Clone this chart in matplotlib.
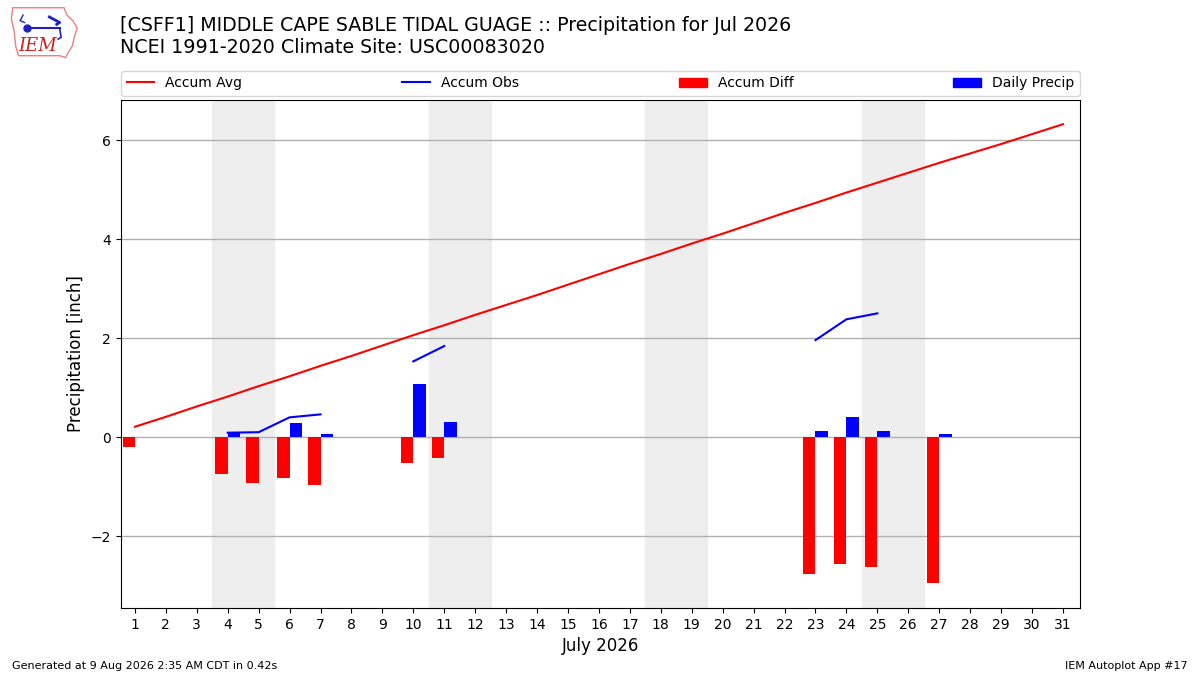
import matplotlib
matplotlib.use("Agg")
import matplotlib.pyplot as plt
import numpy as np
from matplotlib.lines import Line2D
from matplotlib.patches import Patch, Polygon

nan = np.nan

# Day of month
days = list(range(1, 32))

# Climatology accumulated average precipitation [inch]
accum_avg = [0.21, 0.41, 0.62, 0.82, 1.03, 1.23, 1.44, 1.64, 1.85, 2.06,
             2.26, 2.47, 2.67, 2.87, 3.08, 3.29, 3.50, 3.70, 3.91, 4.11,
             4.32, 4.53, 4.73, 4.94, 5.14, 5.34, 5.54, 5.73, 5.92, 6.12,
             6.32]

# Observed accumulated precipitation (missing days are NaN)
accum_obs = [0.01, nan, nan, 0.09, 0.10, 0.40, 0.46, nan, nan, 1.53,
             1.84, nan, nan, nan, nan, nan, nan, nan, nan, nan,
             nan, nan, 1.96, 2.38, 2.50, nan, 2.59, nan, nan, nan,
             nan]

# Accumulated difference obs - avg
accum_diff = [-0.20, nan, nan, -0.74, -0.92, -0.82, -0.96, nan, nan, -0.53,
              -0.42, nan, nan, nan, nan, nan, nan, nan, nan, nan,
              nan, nan, -2.77, -2.57, -2.63, nan, -2.95, nan, nan, nan,
              nan]

# Daily observed precipitation
daily_precip = [0.01, nan, nan, 0.09, 0.01, 0.28, 0.06, nan, nan, 1.07,
                0.30, nan, nan, nan, nan, nan, nan, nan, nan, nan,
                nan, nan, 0.12, 0.40, 0.12, nan, 0.06, nan, nan, nan,
                nan]

# Weekends (Sat-Sun) in July 2026
weekend_starts = [4, 11, 18, 25]

fig = plt.figure(figsize=(12, 6.75), dpi=100)
ax = fig.add_axes([0.1008, 0.0993, 0.7992, 0.7526])

for d in weekend_starts:
    ax.axvspan(d - 0.5, d + 1.5, color="#eeeeee", zorder=0)

ax.bar(days, accum_diff, width=-0.4, align="edge", color="r")
ax.bar(days, daily_precip, width=0.4, align="edge", color="b")
ax.plot(days, accum_avg, color="r", lw=1.5)
ax.plot(days, accum_obs, color="b", lw=1.5)

ax.set_xlim(0.55, 31.55)
ax.set_ylim(-3.45, 6.81)
ax.set_xticks(days)
ax.set_yticks([-2, 0, 2, 4, 6])
ax.yaxis.grid(True, color="#b0b0b0", lw=1)
ax.set_axisbelow(True)
ax.set_xlabel("July 2026", fontsize=12)
ax.set_ylabel("Precipitation [inch]", fontsize=12)

handles = [Line2D([], [], color="r", lw=1.5),
           Line2D([], [], color="b", lw=1.5),
           Patch(color="r"), Patch(color="b")]
labels = ["Accum Avg", "Accum Obs", "Accum Diff", "Daily Precip"]
ax.legend(handles, labels, ncol=4, mode="expand", loc="lower left",
          bbox_to_anchor=(0, 1.008, 1, 0.06), borderaxespad=0)

fig.text(0.1, 0.976,
         "[CSFF1] MIDDLE CAPE SABLE TIDAL GUAGE :: Precipitation for Jul 2026\n"
         "NCEI 1991-2020 Climate Site: USC00083020",
         fontsize=13.7, va="top", ha="left", linespacing=1.2)

fig.text(0.01, 0.006, "Generated at 9 Aug 2026 2:35 AM CDT in 0.42s",
         fontsize=8, ha="left", va="bottom")
fig.text(0.99, 0.006, "IEM Autoplot App #17", fontsize=8,
         ha="right", va="bottom")

# IEM logo (rough sketch)
lax = fig.add_axes([0.007, 0.912, 0.061, 0.082])
lax.set_xlim(0, 100)
lax.set_ylim(0, 60)
lax.axis("off")
outline = [(6, 56), (76, 56), (80, 48), (88, 42), (94, 34), (90, 24),
           (87, 14), (82, 8), (78, 2), (70, 4), (14, 4), (10, 14), (8, 30),
           (4, 44)]
lax.add_patch(Polygon(outline, closed=True, fill=False, ec="#e88080", lw=1))
lax.plot([25, 70], [34, 34], color="#2020c0", lw=1.5)
lax.plot([25], [34], "o", color="#2020c0", ms=5)
lax.plot([56, 70, 66], [46, 40, 38], color="#2020c0", lw=2)
lax.plot([70, 72, 68], [34, 24, 22], color="#2020c0", lw=1.2)
lax.plot([20, 16, 22], [48, 42, 40], color="#2020c0", lw=1)
lax.text(40, 15, "IEM", color="#cc2020", fontsize=13, family="serif",
         style="italic", ha="center", va="center")

fig.savefig("out.png", dpi=100)
